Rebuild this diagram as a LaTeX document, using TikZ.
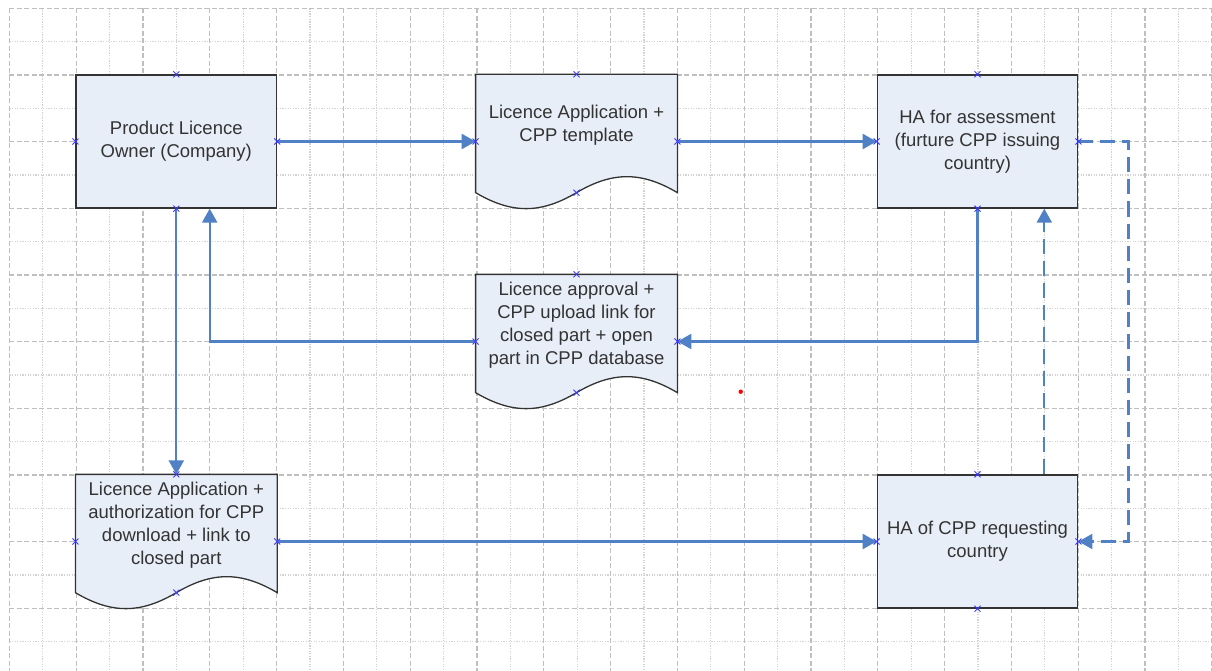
\documentclass[tikz,border=0pt]{standalone}
\usepackage{fontspec}
\setmainfont{Liberation Sans}
\usetikzlibrary{calc,arrows.meta,backgrounds}
\definecolor{boxfill}{RGB}{232,238,248}
\definecolor{flowblue}{RGB}{79,129,196}
\definecolor{markblue}{RGB}{60,60,255}

\begin{document}
\begin{tikzpicture}[x=1pt, y=-1pt,
    box/.style={rectangle, draw=black!80, line width=1.3pt, fill=boxfill,
      minimum width=200.5pt, minimum height=133pt, align=center,
      font=\fontsize{18.5}{23}\selectfont, text=black!80},
    doc/.style={box, draw=none, fill=none, minimum height=100pt},
    docline/.style={draw=black!80, line width=1.3pt, fill=boxfill},
    flow/.style={line width=2.3pt, flowblue, -{Triangle[length=14pt, width=15pt]}},
    flowdash/.style={flow, dash pattern=on 15pt off 7pt},
    majorgrid/.style={gray!50, line width=1.2pt, dash pattern=on 5pt off 2.5pt},
    minorgrid/.style={gray!35, line width=1.2pt, dash pattern=on 1.3pt off 1.3pt},
    xmark/.style={markblue, line width=0.9pt}
  ]
  \useasboundingbox (0,0) rectangle (1212,671);

  % --- Grid ---
  \begin{scope}[on background layer]
    \foreach \i in {1,3,...,35} \draw[minorgrid] (9.3+33.4*\i, 8.3) -- (9.3+33.4*\i, 671);
    \foreach \j in {1,3,...,19} \draw[minorgrid] (9.3, 8.3+33.33*\j) -- (1212, 8.3+33.33*\j);
    \foreach \i in {0,2,...,36} \draw[majorgrid] (9.3+33.4*\i, 8.3) -- (9.3+33.4*\i, 671);
    \foreach \j in {0,2,...,18} \draw[majorgrid] (9.3, 8.3+33.33*\j) -- (1212, 8.3+33.33*\j);
  \end{scope}

  % --- Process boxes ---
  \node[box] (owner) at (176.3, 141.5) {Product Licence\\Owner (Company)};
  \node[box] (ha) at (977.5, 141.5) {HA for assessment\\(furture CPP issuing\\country)};
  \node[box] (hareq) at (977.5, 541.5) {HA of CPP requesting\\country};

  % --- Documents ---
  \node[doc] (tmpl) at (576.5, 125) {Licence Application +\\CPP template};
  \node[doc] (appr) at (576.5, 325) {Licence approval +\\CPP upload link for\\closed part + open\\part in CPP database};
  \node[doc] (auth) at (176.3, 525) {Licence Application +\\authorization for CPP\\download + link to\\closed part};

  \foreach \d in {tmpl,appr,auth} {
    \coordinate (\d-w) at ($(\d.west)+(0,16.5)$);
    \coordinate (\d-e) at ($(\d.east)+(0,16.5)$);
    \coordinate (\d-s) at ($(\d.south)+(0,17)$);
  }

  \begin{scope}[on background layer]
    \foreach \d in {tmpl,appr,auth}
      \draw[docline] (\d.north west) -- (\d.north east) -- ($(\d.south east)+(0,17)$)
        .. controls +(-36,-21.3) and +(36,-21.3) .. (\d-s)
        .. controls +(-36,21.3) and +(36,21.3) .. ($(\d.south west)+(0,17)$) -- cycle;
  \end{scope}

  % --- Connectors ---
  \draw[flow] (owner.east) -- (tmpl-w);
  \draw[flow] (tmpl-e) -- (ha.west);
  \draw[flow] (ha.south) |- (appr-e);
  \draw[flow] (appr-w) -| ($(owner.south)+(33.4,0)$);
  \draw[flow] (owner.south) -- (auth.north);
  \draw[flow] (auth-e) -- (hareq.west);
  \draw[flowdash] ($(hareq.north)+(66.8,0)$) -- ($(ha.south)+(66.8,0)$);
  \draw[flowdash] (ha.east) -- ++(50,0) |- (hareq.east);

  % --- Connection points ---
  \foreach \p in {owner.north,owner.south,owner.west,owner.east,
      ha.north,ha.south,ha.west,ha.east,
      hareq.north,hareq.south,hareq.west,hareq.east,
      tmpl.north,tmpl-w,tmpl-e,tmpl-s,
      appr.north,appr-w,appr-e,appr-s,
      auth.north,auth-w,auth-e,auth-s}
    \draw[xmark] (\p) +(-3,-3) -- +(3,3) +(-3,3) -- +(3,-3);

  \fill[red] (740.7, 391.7) circle (2.2);
\end{tikzpicture}
\end{document}
